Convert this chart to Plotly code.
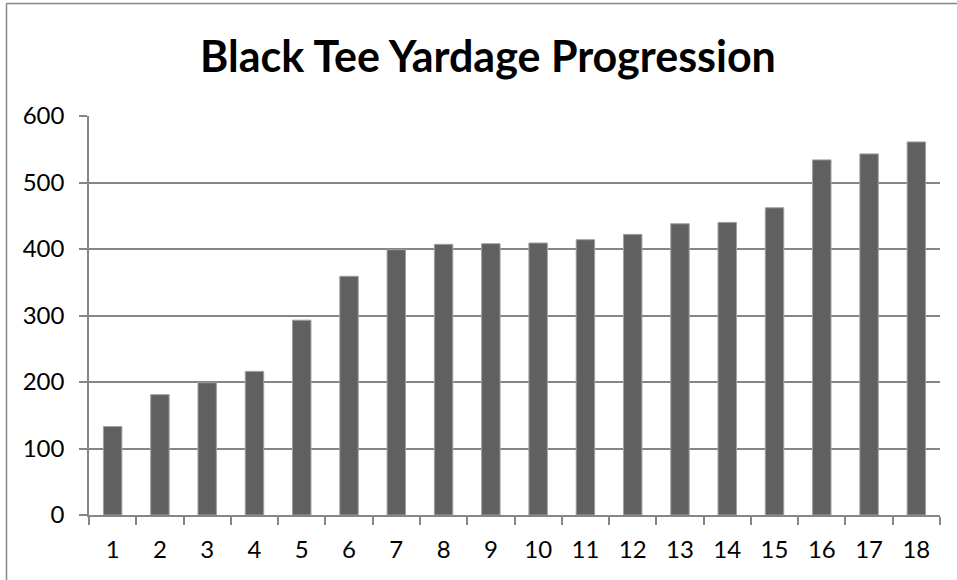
import plotly.graph_objects as go

# Holes on the course, sorted by yardage from the black tees
holes = [str(i) for i in range(1, 19)]
yardage = [133, 181, 199, 216, 293, 359, 399, 407, 408, 409, 414, 422, 438, 440, 462, 534, 543, 561]
y_ticks = [0, 100, 200, 300, 400, 500, 600]

W, H = 957, 580
L, R, T, B = 89, 17, 116, 65

fig = go.Figure(
    go.Bar(
        x=holes,
        y=yardage,
        marker=dict(color="#606060", line=dict(color="#a0a0a0", width=1)),
        hoverinfo="x+y",
    )
)

font = "Lato, 'Open Sans', sans-serif"

fig.update_layout(
    width=W,
    height=H,
    margin=dict(l=L, r=R, t=T, b=B),
    paper_bgcolor="white",
    plot_bgcolor="white",
    bargap=0.61,
    showlegend=False,
    title=dict(
        text="<b>Black Tee Yardage Progression</b>",
        font=dict(family=font, size=43, color="black"),
        x=488 / W,
        xref="container",
        xanchor="center",
        y=1 - 57 / H,
        yref="container",
        yanchor="middle",
    ),
    font=dict(family=font, color="black"),
)

fig.update_xaxes(
    type="category",
    tickson="boundaries",
    ticks="outside",
    ticklen=8,
    tickwidth=1.5,
    tickcolor="#868686",
    showline=True,
    linecolor="#868686",
    linewidth=1.5,
    showgrid=False,
    tickfont=dict(size=24, family=font, color="black"),
    ticklabelstandoff=12,
)

fig.update_yaxes(
    range=[0, 600],
    tickvals=y_ticks,
    ticks="outside",
    ticklen=8,
    tickwidth=1.5,
    tickcolor="#868686",
    showline=True,
    linecolor="#868686",
    linewidth=1.5,
    showgrid=True,
    gridcolor="#868686",
    gridwidth=1.5,
    zeroline=False,
    tickfont=dict(size=24, family=font, color="black"),
    ticklabelstandoff=10,
)

# Outer chart frame (left and top edges fall inside the page)
pw = W - L - R
ph = H - T - B
fx0 = (6.5 - L) / pw
fy1 = 1 + (T - 3.5) / ph
fig.add_shape(type="line", xref="paper", yref="paper",
              x0=fx0, x1=fx0, y0=-2, y1=fy1,
              line=dict(color="#868686", width=1.5))
fig.add_shape(type="line", xref="paper", yref="paper",
              x0=fx0, x1=2, y0=fy1, y1=fy1,
              line=dict(color="#868686", width=1.5))

fig.write_html("out.html")
